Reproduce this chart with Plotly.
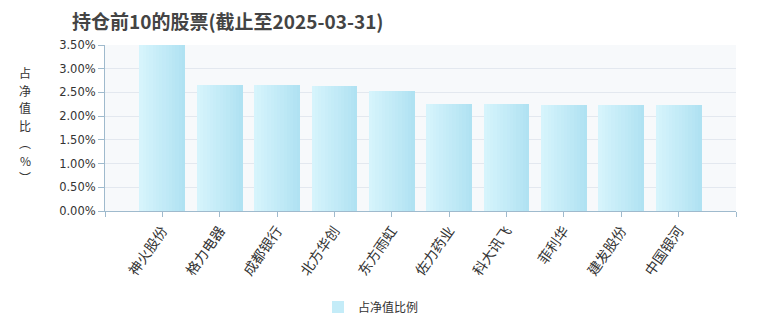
import plotly.graph_objects as go

names = ["神火股份", "格力电器", "成都银行", "北方华创", "东方雨虹",
         "佐力药业", "科大讯飞", "菲利华", "建发股份", "中国银河"]
values = [3.49, 2.65, 2.65, 2.63, 2.54, 2.25, 2.25, 2.23, 2.23, 2.23]
y_ticks = [0, 0.5, 1.0, 1.5, 2.0, 2.5, 3.0, 3.5]
title_text = "持仓前10的股票(截止至2025-03-31)"
series_name = "占净值比例"
y_title_chars = ["占", "净", "值", "比", "︵", "%", "︶"]

xs = list(range(len(names)))
fig = go.Figure()

# horizontal gradient emulated with thin slices
N = 14
total_w = 0.8
c0 = (214, 244, 252)
c1 = (176, 226, 242)
for i in range(N):
    t = i / (N - 1)
    col = "rgb(%d,%d,%d)" % tuple(round(a + (b - a) * t) for a, b in zip(c0, c1))
    w = total_w / N
    fig.add_trace(go.Bar(
        x=xs, y=values, width=w * 1.15 if i < N - 1 else w,
        offset=-total_w / 2 + i * w,
        marker=dict(color=col, line=dict(width=0)),
        showlegend=False, hoverinfo="skip",
    ))

# legend entry
fig.add_trace(go.Bar(
    x=[None], y=[None], name=series_name,
    marker=dict(color="rgb(196,236,248)", line=dict(width=0)),
    showlegend=True,
))

axis_col = "#9fbacd"
fig.update_layout(
    width=760, height=330,
    margin=dict(l=105, r=24, t=45, b=119),
    paper_bgcolor="white",
    plot_bgcolor="#f7f9fb",
    barmode="overlay",
    bargap=0,
    title=dict(text=title_text, x=72 / 760, xanchor="left", y=1 - 22 / 330, yanchor="middle",
               font=dict(family="Noto Sans CJK SC", size=19, color="#444444", weight="bold")),
    xaxis=dict(
        range=[-1, 10],
        tickvals=[-1] + xs + [10],
        ticktext=[""] + names + [""],
        tickangle=-55,
        tickfont=dict(family="Noto Sans CJK SC", size=14, color="#333333"),
        showgrid=False, zeroline=False,
        showline=True, linecolor=axis_col, linewidth=1,
        ticks="outside", ticklen=5, tickcolor=axis_col,
    ),
    yaxis=dict(
        range=[0, 3.5],
        tickvals=y_ticks,
        ticktext=["%.2f%%" % v for v in y_ticks],
        tickfont=dict(family="DejaVu Sans", size=11.5, color="#333333"),
        showgrid=True, gridcolor="#e3e8ef", gridwidth=1,
        zeroline=False,
        showline=True, linecolor=axis_col, linewidth=1,
        ticks="outside", ticklen=6, tickcolor=axis_col,
    ),
    legend=dict(orientation="h", x=318 / 760, xanchor="left", xref="container",
                y=(330 - 307) / 330, yref="container", yanchor="middle",
                font=dict(family="Noto Sans CJK SC", size=12, color="#333333")),
    showlegend=True,
)

y_centers_px = [72, 89.5, 107, 124.5, 142, 159.5, 177]
for ch, yp in zip(y_title_chars, y_centers_px):
    fig.add_annotation(
        text=ch, xref="paper", yref="paper",
        x=-(105 - 25) / 631, y=(210.5 - yp) / 166,
        xanchor="center", yanchor="middle", showarrow=False,
        font=dict(family="Noto Sans CJK SC", size=12, color="#333333"),
    )

fig.write_html("out.html")
